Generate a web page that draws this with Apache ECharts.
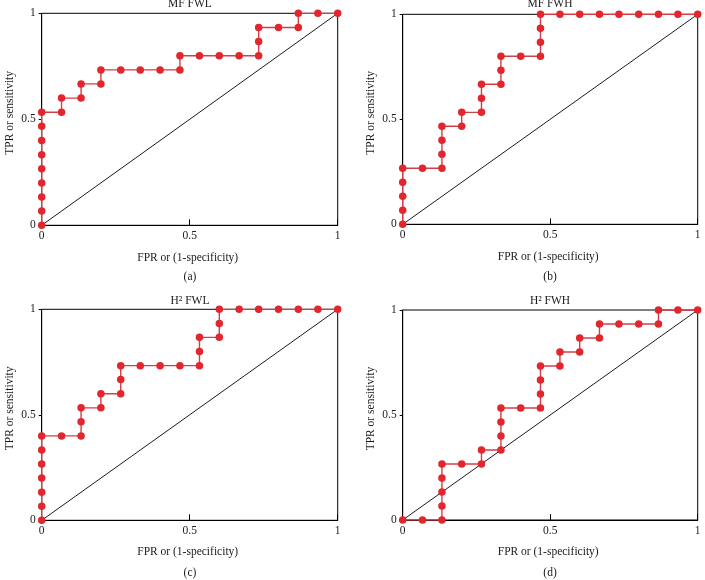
<!DOCTYPE html>
<html>
<head>
<meta charset="utf-8">
<script src="https://cdn.jsdelivr.net/npm/echarts@6/dist/echarts.min.js"></script>
<style>
html,body{margin:0;padding:0;background:#fff;}
#chart{width:705px;height:580px;}
</style>
</head>
<body>
<div id="chart"></div>
<script>
// Panel titles and captions
const panelTitles = ['MF FWL', 'MF FWH', 'H\u00B2 FWL', 'H\u00B2 FWH'];
const panelCaptions = ['(a)', '(b)', '(c)', '(d)'];
const xAxisName = 'FPR or (1-specificity)';
const yAxisName = 'TPR or sensitivity';
const tickValues = [0, 0.5, 1];

// (a) MF FWL
const fprA = [0,0,0,0,0,0,0,0,0,0.067,0.067,0.133,0.133,0.2,0.2,0.267,0.333,0.4,0.467,0.467,0.533,0.6,0.667,0.733,0.733,0.733,0.8,0.867,0.867,0.933,1];
const tprA = [0,0.067,0.133,0.2,0.267,0.333,0.4,0.467,0.533,0.533,0.6,0.6,0.667,0.667,0.733,0.733,0.733,0.733,0.733,0.8,0.8,0.8,0.8,0.8,0.867,0.933,0.933,0.933,1,1,1];
// (b) MF FWH
const fprB = [0,0,0,0,0,0.067,0.133,0.133,0.133,0.133,0.2,0.2,0.267,0.267,0.267,0.333,0.333,0.333,0.4,0.467,0.467,0.467,0.467,0.533,0.6,0.667,0.733,0.8,0.867,0.933,1];
const tprB = [0,0.067,0.133,0.2,0.267,0.267,0.267,0.333,0.4,0.467,0.467,0.533,0.533,0.6,0.667,0.667,0.733,0.8,0.8,0.8,0.867,0.933,1,1,1,1,1,1,1,1,1];
// (c) H2 FWL
const fprC = [0,0,0,0,0,0,0,0.067,0.133,0.133,0.133,0.2,0.2,0.267,0.267,0.267,0.333,0.4,0.467,0.533,0.533,0.533,0.6,0.6,0.6,0.667,0.733,0.8,0.867,0.933,1];
const tprC = [0,0.067,0.133,0.2,0.267,0.333,0.4,0.4,0.4,0.467,0.533,0.533,0.6,0.6,0.667,0.733,0.733,0.733,0.733,0.733,0.8,0.867,0.867,0.933,1,1,1,1,1,1,1];
// (d) H2 FWH
const fprD = [0,0.067,0.133,0.133,0.133,0.133,0.133,0.2,0.267,0.267,0.333,0.333,0.333,0.333,0.4,0.467,0.467,0.467,0.467,0.533,0.533,0.6,0.6,0.667,0.667,0.733,0.8,0.867,0.867,0.933,1];
const tprD = [0,0,0,0.067,0.133,0.2,0.267,0.267,0.267,0.333,0.333,0.4,0.467,0.533,0.533,0.533,0.6,0.667,0.733,0.733,0.8,0.8,0.867,0.867,0.933,0.933,0.933,0.933,1,1,1];
// chance diagonal
const diagX = [0, 1];
const diagY = [0, 1];

const fprs = [fprA, fprB, fprC, fprD];
const tprs = [tprA, tprB, tprC, tprD];

const FONT = '"Liberation Serif", "DejaVu Serif", serif';
const FS = 11.5;
const TXT = '#1a1a1a';
const grids = [
  {left: 41.7, top: 13.3, width: 296, height: 212},
  {left: 402.7, top: 14.3, width: 295, height: 210},
  {left: 41.7, top: 309.3, width: 296, height: 211},
  {left: 402.7, top: 310, width: 295, height: 210}
];
const xNameGaps = [26.5, 26.5, 25.5, 25.5];
const titlePos = [[190, 3.5], [550, 3.5], [190, 301], [550, 301]];
const captionPos = [[190, 277], [550, 277], [190, 573], [550, 573]];

const zip = (xs, ys) => xs.map((x, i) => [x, ys[i]]);

const option = {
  animation: false,
  backgroundColor: '#fff',
  grid: grids.map(g => Object.assign({show: true, borderColor: '#000', borderWidth: 1, backgroundColor: 'transparent'}, g)),
  xAxis: grids.map((g, i) => ({
    gridIndex: i, type: 'value', min: 0, max: 1, interval: 0.5,
    name: xAxisName, nameLocation: 'middle', nameGap: xNameGaps[i],
    nameTextStyle: {fontFamily: FONT, fontSize: FS, color: TXT, padding: [0, 4, 0, 0]},
    axisLine: {show: true, lineStyle: {color: '#000', width: 1}},
    axisTick: {show: true, inside: true, length: 6, lineStyle: {color: '#000'}},
    axisLabel: {margin: 5, fontFamily: FONT, fontSize: FS, color: TXT,
      formatter: v => String(tickValues.find(t => Math.abs(t - v) < 1e-9))},
    splitLine: {show: false}
  })),
  yAxis: grids.map((g, i) => ({
    gridIndex: i, type: 'value', min: 0, max: 1, interval: 0.5,
    name: yAxisName, nameLocation: 'middle', nameGap: 26,
    nameTextStyle: {fontFamily: FONT, fontSize: FS, color: TXT, padding: [0, 0, 0, 13]},
    axisLine: {show: true, lineStyle: {color: '#000', width: 1}},
    axisTick: {show: true, inside: false, length: 3, lineStyle: {color: '#000'}},
    axisLabel: {margin: 6, fontFamily: FONT, fontSize: FS, color: TXT,
      formatter: v => String(tickValues.find(t => Math.abs(t - v) < 1e-9))},
    splitLine: {show: false}
  })),
  series: [],
  graphic: []
};

for (let i = 0; i < 4; i++) {
  option.series.push({
    type: 'line', xAxisIndex: i, yAxisIndex: i,
    data: zip(diagX, diagY), showSymbol: false, symbol: 'none',
    lineStyle: {color: '#000', width: 0.9}, z: 2, silent: true
  });
  option.series.push({
    type: 'line', xAxisIndex: i, yAxisIndex: i,
    data: zip(fprs[i], tprs[i]),
    symbol: 'circle', symbolSize: 7.5, showSymbol: true,
    itemStyle: {color: '#e2262d'},
    lineStyle: {color: '#d43f45', width: 1.4},
    z: 3, silent: true
  });
  option.graphic.push({
    type: 'text', x: titlePos[i][0], y: titlePos[i][1],
    style: {text: panelTitles[i], font: FS + 'px ' + FONT, fill: TXT,
      align: 'center', verticalAlign: 'middle', textAlign: 'center', textVerticalAlign: 'middle'}
  });
  option.graphic.push({
    type: 'text', x: captionPos[i][0], y: captionPos[i][1],
    style: {text: panelCaptions[i], font: FS + 'px ' + FONT, fill: TXT,
      align: 'center', verticalAlign: 'middle', textAlign: 'center', textVerticalAlign: 'middle'}
  });
}

const chart = echarts.init(document.getElementById('chart'), null, {renderer: 'canvas'});
chart.setOption(option);
</script>
</body>
</html>
